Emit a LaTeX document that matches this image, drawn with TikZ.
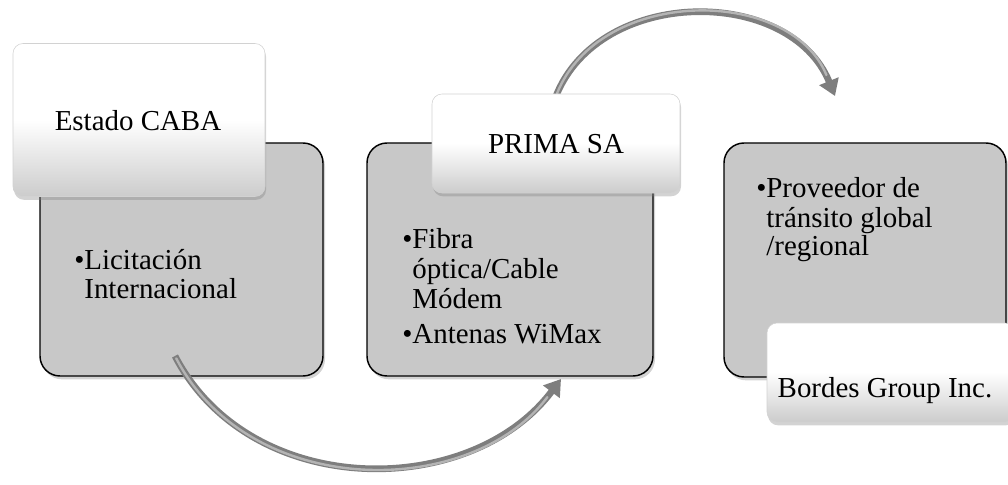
\documentclass[tikz,border=0pt]{standalone}
\usepackage{fontspec}
\setmainfont{Liberation Serif}
\usetikzlibrary{shadows,arrows.meta}
\definecolor{boxgrey}{HTML}{C8C8C8}
\definecolor{arrowgrey}{HTML}{7E7E7E}
\definecolor{arrowlight}{HTML}{B4B4B4}
\tikzset{
  greybox/.style={draw=black, line width=1.1pt, fill=boxgrey, rounded corners=15pt,
    inner sep=0pt, drop shadow={opacity=0.35, shadow xshift=1.5pt, shadow yshift=-2.5pt}},
  headbox/.style={draw=gray!35, line width=0.4pt, top color=white, bottom color=black!20,
    middle color=white, rounded corners=7.5pt, inner sep=0pt,
    drop shadow={opacity=0.35, shadow xshift=0.8pt, shadow yshift=-2.5pt}},
  txt/.style={anchor=base west, inner sep=0pt, font=\fontsize{21.7}{24}\selectfont},
  htxt/.style={anchor=base, inner sep=0pt, font=\fontsize{21.7}{24}\selectfont},
  bigarrow/.style={draw=arrowgrey, line width=5pt,
    -{Triangle[length=12pt,width=15pt,fill=arrowgrey]}},
  highlight/.style={draw=arrowlight, line width=1.8pt, line cap=round},
}
\begin{document}
\begin{tikzpicture}[x=0.75pt,y=-0.75pt]
\useasboundingbox (0,0) rectangle (1008,485);
\clip (0,0) rectangle (1008,485);

% top arrow (behind header 2)
\coordinate (a2s) at (556,96);
\coordinate (a2e) at (835,96);
\draw[bigarrow] (a2s) .. controls (600,-14) and (790,-14) .. (a2e);
\draw[highlight, shorten >=17pt, shorten <=2pt] (a2s) .. controls (600,-14) and (790,-14) .. (a2e);

% grey boxes
\node[greybox, minimum width=212.25pt, minimum height=174.75pt] (g1) at (181.5,259.5) {};
\node[greybox, minimum width=214.5pt, minimum height=174.75pt] (g2) at (510,259.5) {};
\node[greybox, minimum width=211.5pt, minimum height=175.5pt] (g3) at (865,260) {};

% header boxes
\node[headbox, minimum width=189pt, minimum height=114.75pt] (h1) at (139,120) {};
\node[headbox, minimum width=186pt, minimum height=74.25pt] (h2) at (556,143.5) {};
\node[headbox, minimum width=186pt, minimum height=74.25pt] (h3) at (891,372.5) {};

% header texts
\node[htxt] (t1) at (138,131) {Estado CABA};
\node[htxt] (t2) at (556,153) {PRIMA SA};
\node[htxt] (t3) at (885,397) {Bordes Group Inc.};

% box 1 text
\node[txt] (b1a) at (74,269) {•Licitación};
\node[txt] (b1b) at (74,298) {\hphantom{•}Internacional};

% box 2 text
\node[txt] (b2a) at (402,248) {•Fibra};
\node[txt] (b2b) at (402,278) {\hphantom{•}óptica/Cable};
\node[txt] (b2c) at (402,308) {\hphantom{•}Módem};
\node[txt] (b2d) at (402,343) {•Antenas WiMax};

% box 3 text
\node[txt] (b3a) at (756,198) {•Proveedor de};
\node[txt] (b3b) at (756,227) {\hphantom{•}tránsito global};
\node[txt] (b3c) at (756,255) {\hphantom{•}/regional};

% bottom arrow (on top of boxes)
\coordinate (a1s) at (175,356);
\coordinate (a1e) at (561,379);
\draw[bigarrow] (a1s) .. controls (250,500) and (470,500) .. (a1e);
\draw[highlight, shorten >=17pt, shorten <=2pt] (a1s) .. controls (250,500) and (470,500) .. (a1e);
\end{tikzpicture}
\end{document}
